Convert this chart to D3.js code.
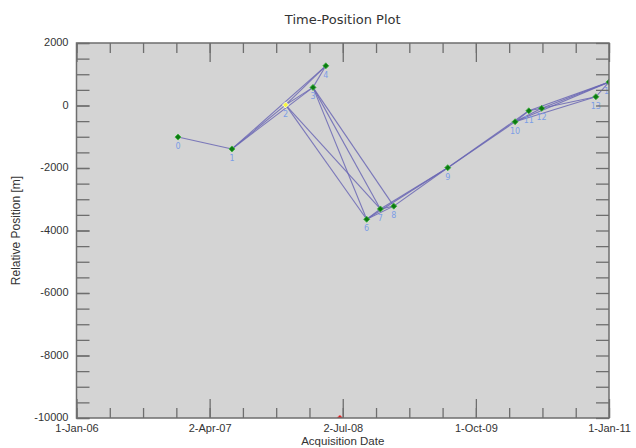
<!DOCTYPE html>
<html>
<head>
<meta charset="utf-8">
<script src="https://cdn.jsdelivr.net/npm/d3@7"></script>
<style>
  body { margin: 0; background: #fff; }
  svg { display: block; }
</style>
</head>
<body>
<div id="chart"></div>
<script>
// acquisitions (index, date, relative position in metres)
var imageIds = [0, 1, 2, 3, 4, 5, 6, 7, 8, 9, 10, 11, 12, 13, 14];
var acqDates = ['2006-12-15', '2007-06-18', '2007-12-19', '2008-03-22', '2008-05-05',
                '2008-06-22', '2008-09-22', '2008-11-08', '2008-12-24', '2009-06-27',
                '2010-02-13', '2010-04-01', '2010-05-15', '2010-11-17', '2011-01-01'];
var positions = [-1010, -1390, 20, 580, 1270, -10000, -3640, -3310, -3220, -1990,
                 -520, -170, -90, 280, 750];
var pointKind = ['slave', 'slave', 'super', 'slave', 'slave', 'master', 'slave', 'slave', 'slave', 'slave',
                 'slave', 'slave', 'slave', 'slave', 'slave'];

// interferometric pairs
var pairs = [[0, 1], [1, 2], [1, 3], [1, 4], [2, 3], [2, 4], [3, 4],
             [2, 6], [2, 7], [3, 6], [3, 7], [3, 8],
             [6, 7], [6, 8], [7, 8], [6, 9], [7, 9], [8, 9],
             [9, 10], [9, 11],
             [10, 11], [10, 12], [10, 13], [10, 14], [11, 12], [11, 14],
             [12, 13], [12, 14], [13, 14]];

var xDomain = ['2006-01-01', '2011-01-01'];
var xTickLabels = ['1-Jan-06', '2-Apr-07', '2-Jul-08', '1-Oct-09', '1-Jan-11'];
var yTicks = [-10000, -8000, -6000, -4000, -2000, 0, 2000];

var width = 636, height = 448;
var margin = {top: 43, left: 76.5};
var plotW = 532.5;
var plotH = 375;

var parseDate = d3.timeParse('%Y-%m-%d');

var points = imageIds.map(function(id, i) {
  return {id: id, date: parseDate(acqDates[i]), pos: positions[i], kind: pointKind[i]};
});

var t0 = parseDate(xDomain[0]), t1 = parseDate(xDomain[1]);
var x = d3.scaleTime().domain([t0, t1]).range([0, plotW]);
var y = d3.scaleLinear().domain([-10000, 2000]).range([plotH, 0]);

function spaced(n) {
  return d3.range(n + 1).map(function(i) {
    return new Date(+t0 + i * (t1 - t0) / n);
  });
}
var xMajor = spaced(4);
var xMinor = spaced(16);
var yMinor = d3.range(-10000, 2001, 500);

var svg = d3.select('#chart').append('svg')
  .attr('width', width)
  .attr('height', height);

svg.append('text')
  .attr('x', margin.left + plotW / 2)
  .attr('y', 24)
  .attr('text-anchor', 'middle')
  .style('font-family', 'DejaVu Sans, sans-serif')
  .style('font-size', '13px')
  .style('fill', '#333')
  .text('Time-Position Plot');

var g = svg.append('g')
  .attr('transform', 'translate(' + margin.left + ',' + margin.top + ')');

g.append('rect')
  .attr('width', plotW)
  .attr('height', plotH)
  .attr('fill', '#d4d4d4');

svg.append('defs').append('clipPath')
  .attr('id', 'clip')
  .append('rect')
  .attr('width', plotW)
  .attr('height', plotH);

var plot = g.append('g').attr('clip-path', 'url(#clip)');

plot.selectAll('.pair')
  .data(pairs)
  .enter()
  .append('line')
  .attr('class', 'pair')
  .attr('x1', function(p) { return x(points[p[0]].date); })
  .attr('y1', function(p) { return y(points[p[0]].pos); })
  .attr('x2', function(p) { return x(points[p[1]].date); })
  .attr('y2', function(p) { return y(points[p[1]].pos); })
  .attr('stroke', '#6a66b4')
  .attr('stroke-opacity', 0.85)
  .attr('stroke-width', 1.1);

var fillFor = {slave: '#0c7a12', super: '#f6f640', master: '#d42020'};
var strokeFor = {slave: '#3cb43c', super: '#fffff0', master: '#f07070'};

plot.selectAll('.acq')
  .data(points)
  .enter()
  .append('path')
  .attr('class', 'acq')
  .attr('d', d3.symbol().type(d3.symbolSquare).size(18))
  .attr('transform', function(d) {
    return 'translate(' + x(d.date) + ',' + y(d.pos) + ') rotate(45)';
  })
  .attr('fill', function(d) { return fillFor[d.kind]; })
  .attr('stroke', function(d) { return strokeFor[d.kind]; })
  .attr('stroke-width', 0.8);

// labels that would fall below the frame are clipped away anyway
plot.selectAll('.acq-label')
  .data(points.filter(function(d) { return y(d.pos) + 6 < plotH; }))
  .enter()
  .append('text')
  .attr('class', 'acq-label')
  .attr('x', function(d) { return x(d.date); })
  .attr('y', function(d) { return y(d.pos) + 12; })
  .attr('text-anchor', 'middle')
  .style('font-family', 'DejaVu Sans, sans-serif')
  .style('font-size', '8px')
  .style('fill', '#7c9ee6')
  .text(function(d) { return d.id; });

// axes
var tickColor = '#6e6e6e';
var fontAxis = 'Liberation Sans, Arial, sans-serif';

function styleAxis(sel) {
  sel.select('.domain').remove();
  sel.selectAll('line').attr('stroke', tickColor).attr('stroke-width', 1.3);
  sel.selectAll('text')
     .style('font-family', fontAxis)
     .style('font-size', '11px')
     .style('fill', '#333');
}

g.append('g')
  .attr('transform', 'translate(0,' + plotH + ')')
  .call(d3.axisBottom(x).tickValues(xMinor).tickSize(-10).tickFormat(''))
  .call(styleAxis);

g.append('g')
  .attr('transform', 'translate(0,' + plotH + ')')
  .call(d3.axisBottom(x).tickValues(xMajor).tickSize(-19).tickPadding(6)
          .tickFormat(function(d, i) { return xTickLabels[i]; }))
  .call(styleAxis);

g.append('g')
  .call(d3.axisTop(x).tickValues(xMinor).tickSize(-10).tickFormat(''))
  .call(styleAxis);

g.append('g')
  .call(d3.axisTop(x).tickValues(xMajor).tickSize(-19).tickFormat(''))
  .call(styleAxis);

g.append('g')
  .call(d3.axisLeft(y).tickValues(yMinor).tickSize(-13).tickFormat(''))
  .call(styleAxis);

g.append('g')
  .call(d3.axisLeft(y).tickValues(yTicks).tickSize(-13).tickPadding(8)
          .tickFormat(function(d) { return String(d); }))
  .call(styleAxis)
  .selectAll('text')
  .attr('dy', '0.25em');

g.append('g')
  .attr('transform', 'translate(' + plotW + ',0)')
  .call(d3.axisRight(y).tickValues(yMinor).tickSize(-13).tickFormat(''))
  .call(styleAxis);

g.append('rect')
  .attr('width', plotW)
  .attr('height', plotH)
  .attr('fill', 'none')
  .attr('stroke', tickColor)
  .attr('stroke-width', 1.5);

svg.append('text')
  .attr('x', margin.left + plotW / 2)
  .attr('y', 445)
  .attr('text-anchor', 'middle')
  .style('font-family', fontAxis)
  .style('font-size', '11.5px')
  .style('fill', '#333')
  .text('Acquisition Date');

svg.append('text')
  .attr('transform', 'translate(20,' + (margin.top + plotH / 2) + ') rotate(-90)')
  .attr('text-anchor', 'middle')
  .style('font-family', fontAxis)
  .style('font-size', '12px')
  .style('fill', '#333')
  .text('Relative Position [m]');
</script>
</body>
</html>
